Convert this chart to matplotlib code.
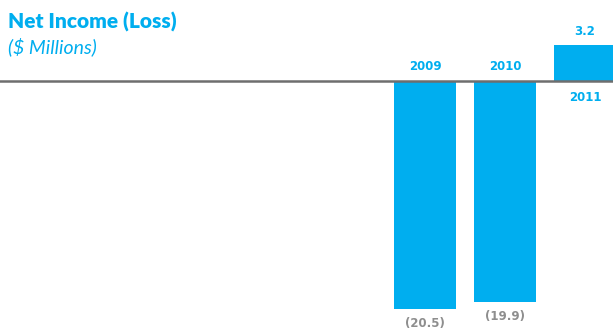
import matplotlib.pyplot as plt

plt.rcParams['font.family'] = ['Lato', 'DejaVu Sans']

years = ['2009', '2010', '2011']
net_income = [-20.5, -19.9, 3.2]
value_labels = ['(20.5)', '(19.9)', '3.2']

blue = '#00AEEF'
grey = '#8E8E8E'
label_font = dict(family='DejaVu Sans', fontsize=8.5, fontweight='bold')

fig = plt.figure(figsize=(6.13, 3.32), dpi=100)
ax = fig.add_axes([0, 0, 1, 1])

x = list(range(len(years)))
ax.bar(x, net_income, width=0.775, color=blue, zorder=2)
ax.axhline(0, color='#6E6E6E', linewidth=1.8, zorder=3)

for xi, yr, v, lbl in zip(x, years, net_income, value_labels):
    if v < 0:
        ax.text(xi, 0.75, yr, ha='center', va='bottom', color=blue, **label_font)
        ax.text(xi, v - 0.7, lbl, ha='center', va='top', color=grey, **label_font)
    else:
        ax.text(xi, -0.9, yr, ha='center', va='top', color=blue, **label_font)
        ax.text(xi, v + 0.7, lbl, ha='center', va='bottom', color=blue, **label_font)

ax.set_xlim(-5.3125, 2.35)
ax.set_ylim(-22.57, 7.28)
ax.axis('off')

fig.text(8 / 613, 1 - 22 / 332, 'Net Income (Loss)', color=blue,
         fontsize=15, fontweight='heavy', va='center', ha='left')
fig.text(8 / 613, 1 - 47 / 332, '($ Millions)', color=blue,
         fontsize=14, style='italic', va='center', ha='left')

fig.savefig('out.png', dpi=100)
